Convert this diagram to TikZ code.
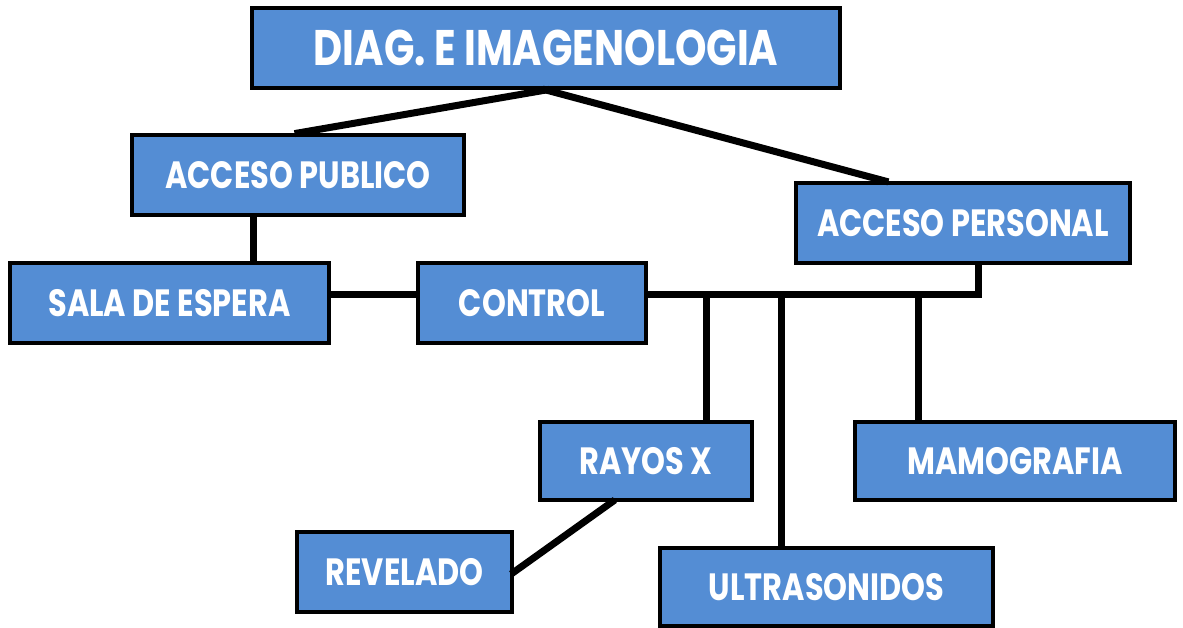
\documentclass[tikz,border=0pt]{standalone}
\usepackage{fontspec}
\usepackage{tikz}
\newfontfamily\boxfont{Poppins}[FakeStretch=0.8]
\definecolor{boxblue}{RGB}{84,141,212}

\begin{document}
\begin{tikzpicture}[x=1pt, y=-1pt,
  unit/.style={draw=black, line width=4pt, fill=boxblue, text=white, inner sep=0pt,
    minimum height=80pt, font=\boxfont\bfseries\fontsize{38}{42}\selectfont},
  link/.style={line width=7pt, line cap=rect}]
\useasboundingbox (0,0) rectangle (1183,628);
\node[unit, minimum width=588pt, font=\boxfont\bfseries\fontsize{50}{54}\selectfont] (diag) at (546,48) {DIAG. E IMAGENOLOGIA};
\node[unit, minimum width=332pt] (publico) at (298,175) {ACCESO PUBLICO};
\node[unit, minimum width=334pt] (personal) at (963,223) {ACCESO PERSONAL};
\node[unit, minimum width=319pt] (sala) at (169.5,303) {SALA DE ESPERA};
\node[unit, minimum width=228pt] (control) at (532,303) {CONTROL};
\node[unit, minimum width=212pt, minimum height=78pt] (rayos) at (646,461) {RAYOS X};
\node[unit, minimum width=320pt, minimum height=78pt] (mamo) at (1015,461) {MAMOGRAFIA};
\node[unit, minimum width=215pt] (revelado) at (404.5,572) {REVELADO};
\node[unit, minimum width=333pt, minimum height=78pt] (ultra) at (826.5,587) {ULTRASONIDOS};

\draw[link] (diag.south) -- (publico.north);
\draw[link] (diag.south) -- ([xshift=-78pt]personal.north);
\draw[link] ([xshift=-45pt]publico.south) -- ([xshift=83.5pt]sala.north);
\draw[link] ([yshift=8pt]sala.east) -- ([yshift=8pt]control.west);
\draw[link] ([yshift=8pt]control.east) -| ([xshift=15pt]personal.south);
\draw[link] ([xshift=60pt]rayos.north) |- ([yshift=8pt]control.east);
\draw[link] ([xshift=-45.5pt]ultra.north) |- ([yshift=8pt]control.east);
\draw[link] ([xshift=-97pt]mamo.north) |- ([yshift=8pt]control.east);
\draw[link] ([xshift=-34pt]rayos.south) -- (revelado.east);
\end{tikzpicture}
\end{document}
